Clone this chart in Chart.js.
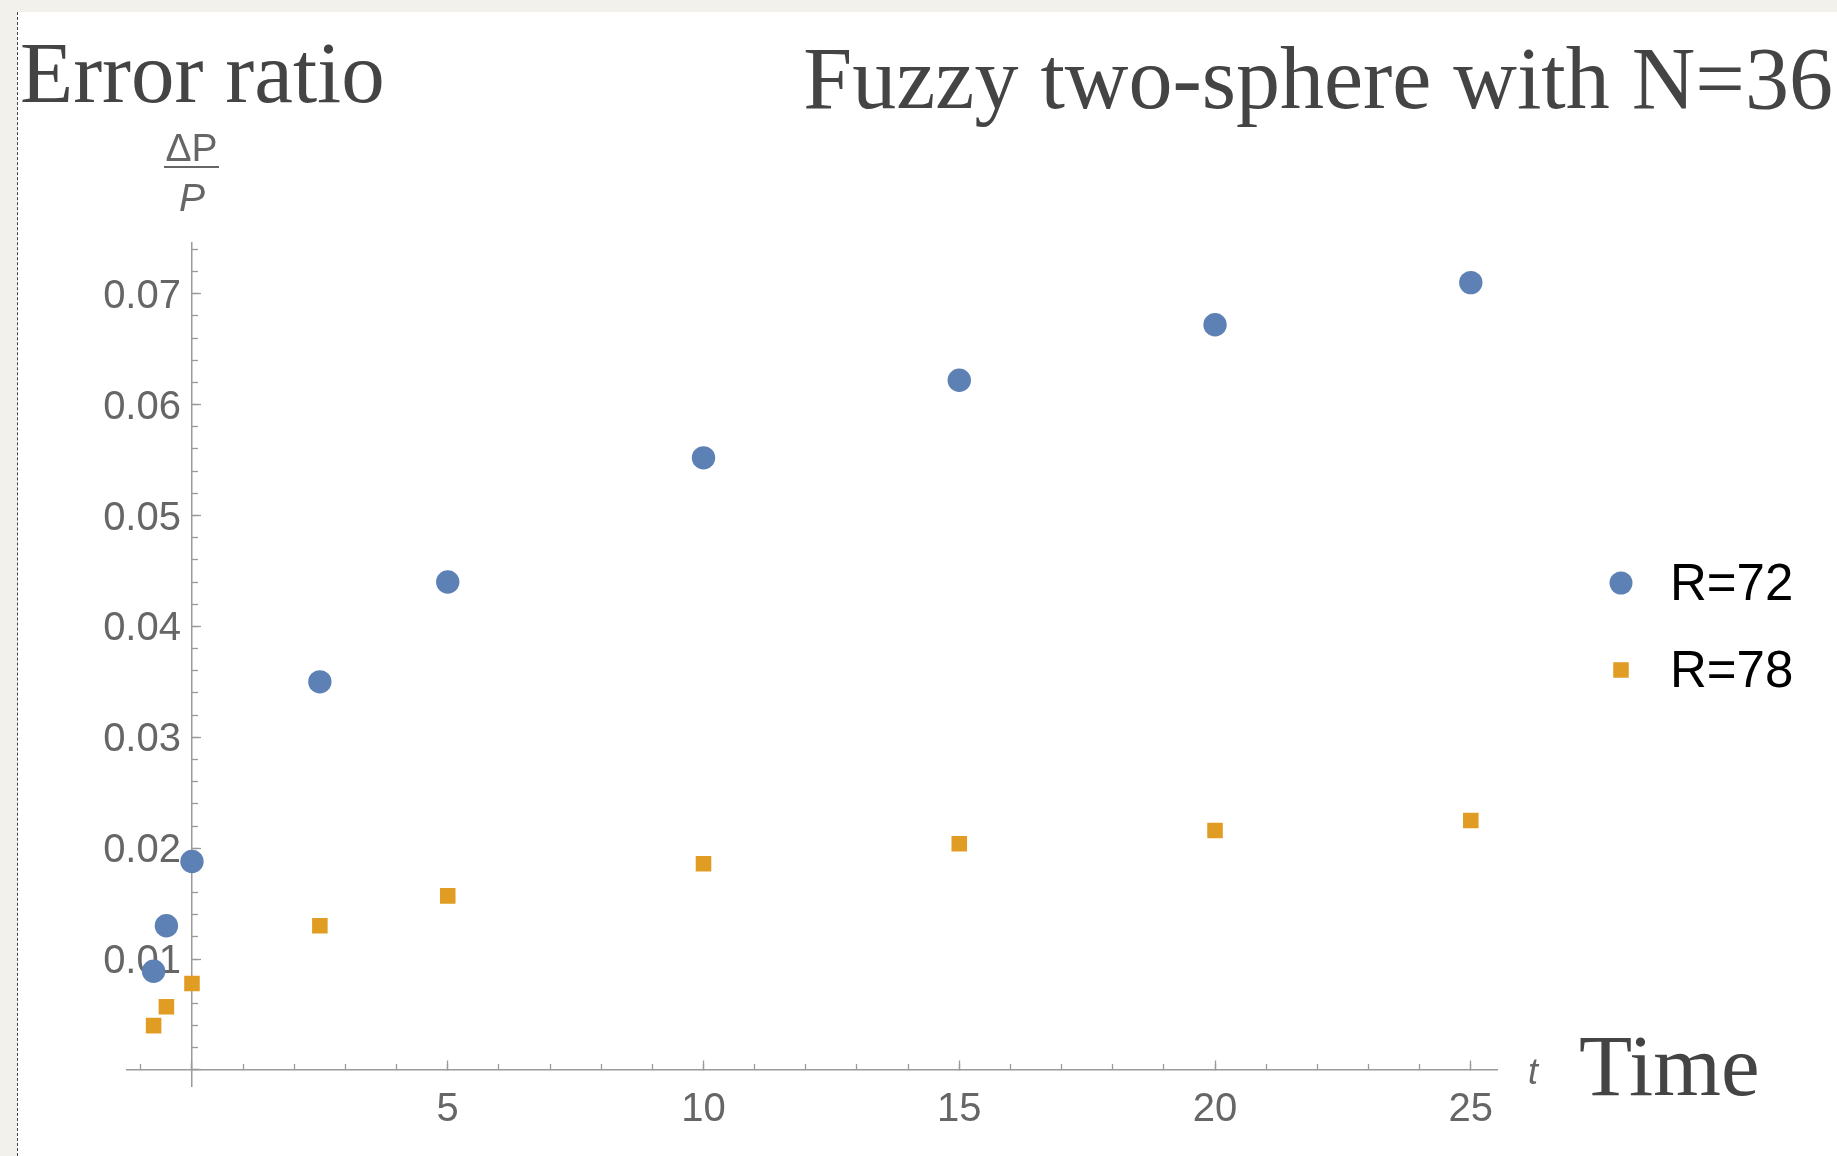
<!DOCTYPE html>
<html>
<head>
<meta charset="utf-8">
<title>Error ratio</title>
<script src="https://cdn.jsdelivr.net/npm/chart.js@4.4.1/dist/chart.umd.min.js"></script>
<style>
  body { margin: 0; background: #f3f1ec; }
  #wrap { position: relative; width: 1837px; height: 1156px; overflow: hidden; }
  #paper { position: absolute; left: 17px; top: 12px; right: 0; bottom: 0; background: #fff; border-left: 1.5px dashed #444; }
  #chart { position: absolute; left: 0; top: 0; }
</style>
</head>
<body>
<div id="wrap">
  <div id="paper"></div>
  <canvas id="chart" width="1837" height="1156"></canvas>
</div>
<script>
// data
const times = [-0.75, -0.5, 0, 2.5, 5, 10, 15, 20, 25];
const ratioR72 = [0.0089, 0.0130, 0.0188, 0.0350, 0.0440, 0.0552, 0.0622, 0.0672, 0.0710];
const ratioR78 = [0.0040, 0.0057, 0.0078, 0.0130, 0.0157, 0.0186, 0.0204, 0.0216, 0.0225];
const seriesNames = ['R=72', 'R=78'];
const seriesColors = ['#5E81B5', '#E19C24'];

const xRange = [-1.28, 25.52];
const yRange = [-0.0015, 0.0746];
const xMajorStep = 5, xMinorStep = 1;
const yMajorStep = 0.01, yMinorStep = 0.002;

const axisGray = '#9a9a9a';
const labelGray = '#666';
const sans = '"Liberation Sans", Arial, sans-serif';
const serif = '"Liberation Serif", "Times New Roman", serif';

function toPoints(xs, ys) {
    return xs.map((x, i) => ({ x: x, y: ys[i] }));
}

// axes sit at the origin and take no layout room
function zeroHeight(scale) { scale.height = 0; }
function zeroWidth(scale) { scale.width = 0; }

function xAxis(step, tickLen, showLabels, showBorder) {
    return {
        type: 'linear', axis: 'x', min: xRange[0], max: xRange[1],
        position: { y: 0 },
        border: { display: showBorder, color: axisGray, width: 1.5 },
        grid: { drawOnChartArea: false, tickLength: tickLen, tickColor: axisGray, tickWidth: 1.3 },
        ticks: {
            stepSize: step, includeBounds: false, autoSkip: false, maxRotation: 0,
            padding: 26, color: labelGray, font: { family: sans, size: 40 },
            callback: v => (showLabels && v > 0) ? String(v) : ''
        },
        afterFit: zeroHeight
    };
}

function yAxis(step, tickLen) {
    return {
        type: 'linear', axis: 'y', min: yRange[0], max: yRange[1],
        position: { x: 0 },
        border: { display: tickLen === -10, color: axisGray, width: 1.5 },
        grid: { drawOnChartArea: false, tickLength: tickLen, tickColor: axisGray, tickWidth: 1.3 },
        ticks: { stepSize: step, includeBounds: false, autoSkip: false, callback: () => '' },
        afterFit: zeroWidth
    };
}

const textPlugin = {
    id: 'texts',
    afterDraw(chart) {
        const ctx = chart.ctx;
        ctx.save();

        ctx.fillStyle = '#444';
        ctx.font = '87px ' + serif;
        ctx.textBaseline = 'alphabetic';
        ctx.textAlign = 'left';
        ctx.fillText('Error ratio', 20, 102);
        ctx.fillText('Time', 1579, 1095);
        ctx.textAlign = 'right';
        ctx.font = '88px ' + serif;
        ctx.fillText('Fuzzy two-sphere with N=36', 1833, 108);

        // axis labels
        ctx.fillStyle = labelGray;
        ctx.textAlign = 'left';
        ctx.font = 'italic 36px ' + sans;
        ctx.fillText('t', 1528, 1084);

        ctx.textAlign = 'center';
        ctx.font = '39px ' + sans;
        ctx.fillText('ΔP', 191.5, 161);
        ctx.font = 'italic 39px ' + sans;
        ctx.fillText('P', 192, 211);
        ctx.fillRect(164, 166, 55, 2);

        // legend
        const legendY = [583, 670];
        chart.data.datasets.forEach((ds, i) => {
            const cy = legendY[i];
            ctx.fillStyle = ds.backgroundColor;
            if (ds.pointStyle === 'rect') {
                ctx.fillRect(1621 - 7.75, cy - 7.75, 15.5, 15.5);
            } else {
                ctx.beginPath();
                ctx.arc(1621, cy, 11.5, 0, Math.PI * 2);
                ctx.fill();
            }
            ctx.fillStyle = '#000';
            ctx.textAlign = 'left';
            ctx.font = '51px ' + sans;
            ctx.fillText(ds.label, 1670, cy + 17);
        });

        ctx.restore();
    }
};

const ctx = document.getElementById('chart').getContext('2d');
new Chart(ctx, {
    type: 'scatter',
    data: {
        datasets: [{
            label: seriesNames[0],
            data: toPoints(times, ratioR72),
            backgroundColor: seriesColors[0],
            borderWidth: 0,
            pointStyle: 'circle',
            pointRadius: 11.7,
            pointHoverRadius: 11.7
        }, {
            label: seriesNames[1],
            data: toPoints(times, ratioR78),
            backgroundColor: seriesColors[1],
            borderWidth: 0,
            pointStyle: 'rect',
            pointRadius: 11,
            pointHoverRadius: 11
        }]
    },
    options: {
        responsive: false,
        animation: false,
        layout: { padding: { left: 126.5, right: 339.6, top: 242.7, bottom: 69.4 } },
        plugins: {
            legend: { display: false },
            title: { display: false },
            tooltip: { enabled: false }
        },
        scales: {
            x: xAxis(xMajorStep, -10, true, true),
            xMinor: xAxis(xMinorStep, -6, false, false),
            y: yAxis(yMajorStep, -10),
            yMinor: yAxis(yMinorStep, -6),
            yLabels: {
                type: 'linear', axis: 'y', min: yRange[0], max: yRange[1],
                position: { x: -0.215 },
                border: { display: false },
                grid: { display: false },
                ticks: {
                    stepSize: yMajorStep, includeBounds: false, autoSkip: false,
                    labelOffset: 3,
                    color: labelGray, font: { family: sans, size: 40 },
                    callback: v => v > 0 ? v.toFixed(2) : ''
                },
                afterFit: zeroWidth
            }
        }
    },
    plugins: [textPlugin]
});
</script>
</body>
</html>
